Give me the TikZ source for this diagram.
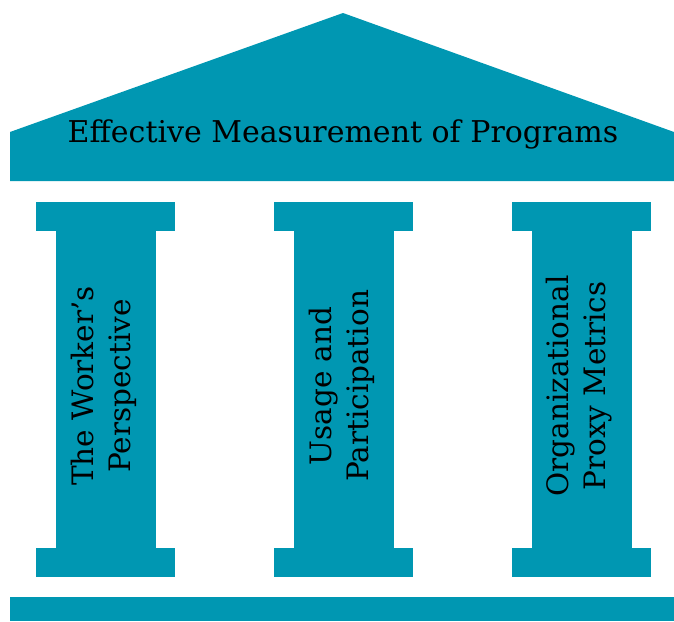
\documentclass[tikz,border=0pt]{standalone}
\usepackage{fontspec}
\setmainfont{DejaVu Serif}
\definecolor{pillarteal}{HTML}{0097B2}
\begin{document}
\begin{tikzpicture}[x=1pt, y=-1pt,
    slab/.style={fill=pillarteal, draw=none},
    titletext/.style={font=\fontsize{30}{34}\selectfont, text=black},
    pillartext/.style={font=\fontsize{29.5}{37}\selectfont, align=center, rotate=90, text=black}
]
\useasboundingbox (0,0) rectangle (674,621);
% Roof with its architrave
\fill[slab] (10,181) -- (10,132) -- (343,13) -- (674,132) -- (674,181) -- cycle;
\node[titletext] (title) at (343,134) {Effective Measurement of Programs};
% Three pillars: capital, shaft, base
\foreach \x/\name/\txt in {105.5/worker/{The Worker’s\\Perspective},
                           343.5/usage/{Usage and\\Participation},
                           581.5/proxy/{Organizational\\Proxy Metrics}} {
    \fill[slab] (\x-69.5,202) rectangle (\x+69.5,231);
    \fill[slab] (\x-50,231) rectangle (\x+50,548);
    \fill[slab] (\x-69.5,548) rectangle (\x+69.5,577);
    \node[pillartext] (\name) at (\x-2,386) {\txt};
}
% Floor
\fill[slab] (10,597) rectangle (674,621);
\end{tikzpicture}
\end{document}
